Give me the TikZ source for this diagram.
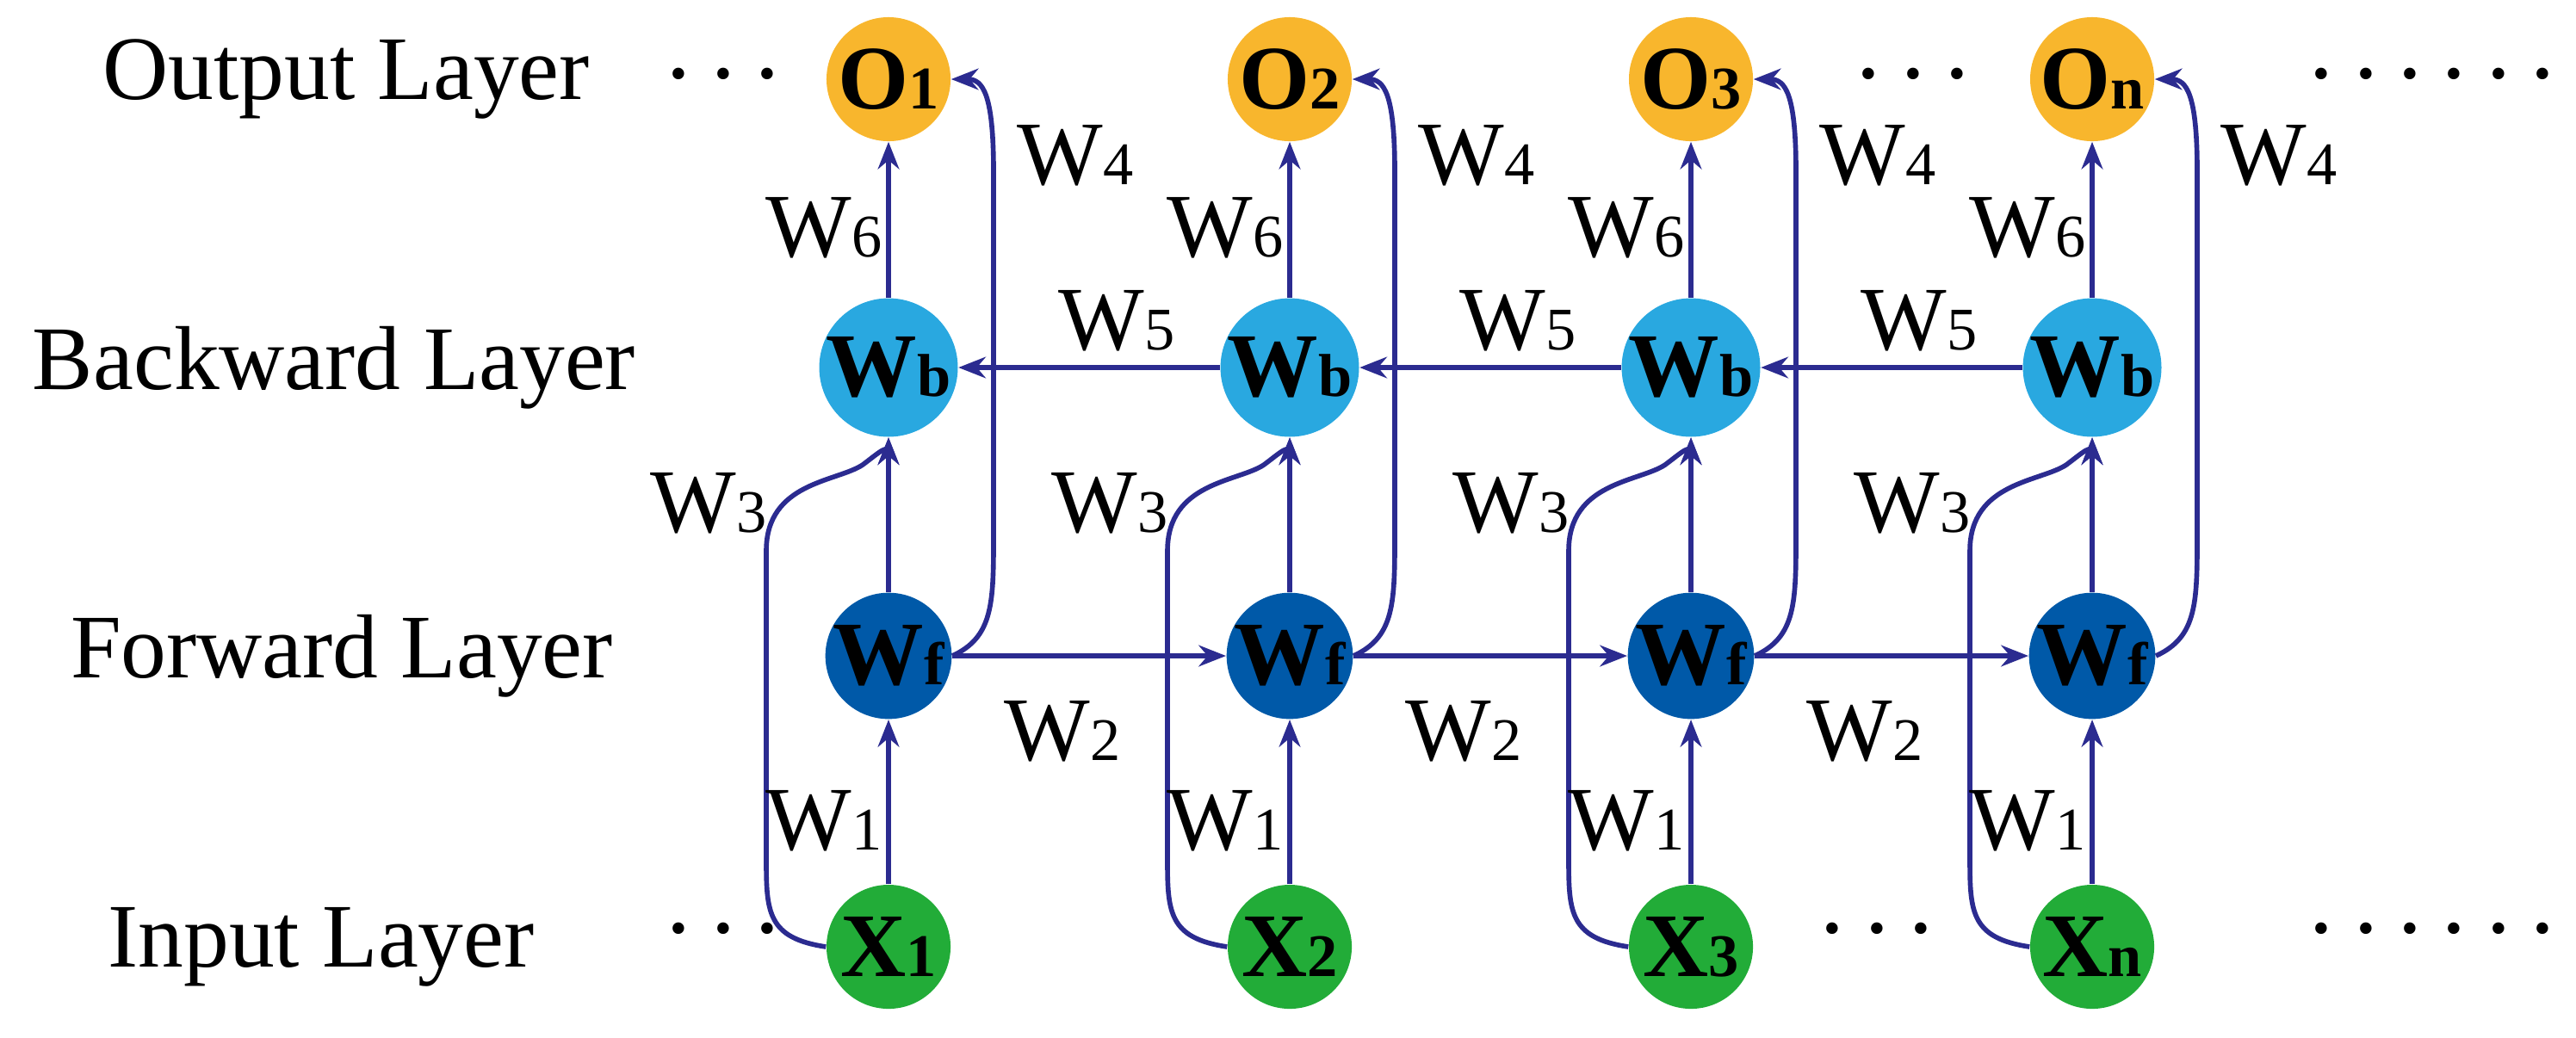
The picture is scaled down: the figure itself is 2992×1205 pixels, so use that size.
\documentclass[tikz,border=0pt]{standalone}
\usepackage{fontspec}
\setmainfont{Liberation Serif}
\usetikzlibrary{arrows.meta}
\definecolor{cO}{HTML}{F8B62D}
\definecolor{cB}{HTML}{29A8E0}
\definecolor{cF}{HTML}{0059A8}
\definecolor{cX}{HTML}{22AC38}
\definecolor{ln}{HTML}{2B2B90}
\newcommand{\sm}[1]{{\fontsize{20}{20}\selectfont #1}}
\newcommand{\bd}{{\fontsize{16}{16}\selectfont\textbullet}}
\newcommand{\gp}{\hspace{9pt}}
\begin{document}
\begin{tikzpicture}[x=0.01cm,y=-0.01cm,
  nd/.style={circle,minimum size=1.44cm,inner sep=0pt,font=\fontsize{30}{30}\selectfont\bfseries},
  lay/.style={font=\fontsize{30}{30}\selectfont},
  wl/.style={font=\fontsize{30}{30}\selectfont},
  ar/.style={draw=ln,line width=1.6pt,-{Stealth[length=9pt,width=7pt]}},
  dots/.style={inner sep=0pt}]
\useasboundingbox (0,0) rectangle (2992,1205);
\node[lay] (lo) at (402,92) {Output Layer};
\node[lay] (lb) at (388,427) {Backward Layer};
\node[lay] (lf) at (397,762) {Forward Layer};
\node[lay] (li) at (373,1100) {Input Layer};
\node[dots] (d1) at (840,92) {\bd\gp\bd\gp\bd};
\node[dots] (d2) at (840,1085) {\bd\gp\bd\gp\bd};
\node[dots] (d3) at (2222,92) {\bd\gp\bd\gp\bd};
\node[dots] (d4) at (2180,1085) {\bd\gp\bd\gp\bd};
\node[dots] (d5) at (2825,92) {\bd\gp\bd\gp\bd\gp\bd\gp\bd\gp\bd};
\node[dots] (d6) at (2825,1085) {\bd\gp\bd\gp\bd\gp\bd\gp\bd\gp\bd};
\foreach \i/\x/\s in {1/1032/1,2/1498/2,3/1964/3,4/2430/n}{
  \node[nd,fill=cO] (o\i) at (\x,92) {O\sm{\s}};
  \node[nd,fill=cB] (b\i) at (\x,427) {W\sm{b}};
  \node[nd,fill=cF] (f\i) at (\x,762) {W\sm{f}};
  \node[nd,fill=cX] (x\i) at (\x,1100) {X\sm{\s}};
  \draw[ar] (x\i) -- (f\i);
  \draw[ar] (f\i) -- (b\i);
  \draw[ar] (b\i) -- (o\i);
  \draw[ar] (f\i.east) .. controls (\x+122,740) and (\x+122,700) .. (\x+122,620)
     -- (\x+122,200) .. controls (\x+122,110) and (\x+110,92) .. (o\i.east);
  \draw[ar] (x\i.west) .. controls (\x-140,1090) and (\x-142,1060) .. (\x-142,1000)
     -- (\x-142,640) .. controls (\x-142,560) and (\x-60,560) .. (\x-30,540) .. controls (\x-10,525) and (\x,515) .. (b\i.south);
  \node[wl] (w6\i) at (\x-75,265) {W\sm{6}};
  \node[wl] (w4\i) at (\x+217,181) {W\sm{4}};
  \node[wl] (w3\i) at (\x-209,585) {W\sm{3}};
  \node[wl] (w1\i) at (\x-75,954) {W\sm{1}};
}
\foreach \a/\b/\x in {1/2/1032,2/3/1498,3/4/1964}{
  \draw[ar] (f\a) -- (f\b);
  \draw[ar] (b\b) -- (b\a);
  \node[wl] (w2\a) at (\x+202,850) {W\sm{2}};
  \node[wl] (w5\a) at (\x+265,373) {W\sm{5}};
}
\end{tikzpicture}
\end{document}
